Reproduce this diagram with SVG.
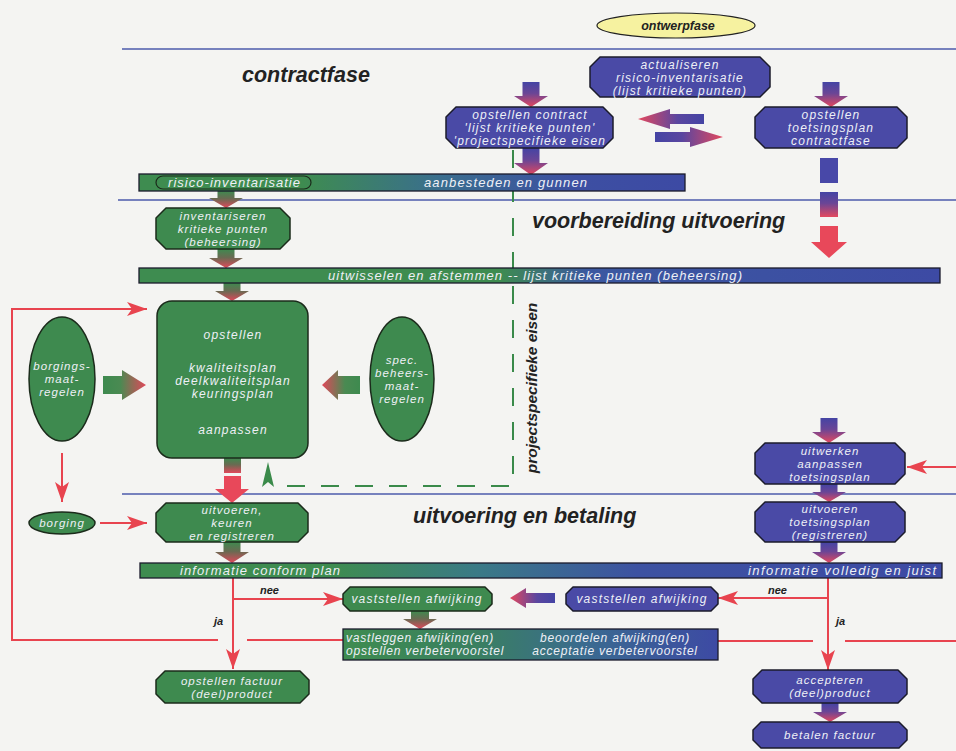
<svg xmlns="http://www.w3.org/2000/svg" width="956" height="751" viewBox="0 0 956 751">
<style>
.nb{fill:#4a4aa6;stroke:#1b1b2b;stroke-width:1.5;stroke-linejoin:round}
.ng{fill:#3e8a4f;stroke:#1b2b1b;stroke-width:1.5;stroke-linejoin:round}
.bar{stroke:#1b1b2b;stroke-width:1.3}
.t{font-family:"Liberation Sans",Arial,sans-serif;font-style:italic;font-size:11.5px;fill:#eef0f6;text-anchor:middle;letter-spacing:1.05px}
.big{font-size:12px;letter-spacing:1.2px}
.tl{letter-spacing:0;font-size:13px}
.ts{text-anchor:start}
.te{text-anchor:end}
.h{font-family:"Liberation Sans",Arial,sans-serif;font-style:italic;font-weight:bold;font-size:21.5px;fill:#222}
.lbl{font-family:"Liberation Sans",Arial,sans-serif;font-style:italic;font-weight:bold;font-size:11px;fill:#222}
.red{stroke:#e8444f;stroke-width:2;fill:none}
.bl{stroke:#4d5bab;stroke-width:1.3}
.gd{stroke:#3a8a4a;stroke-width:2;fill:none;stroke-dasharray:18 16}
</style>
<defs>
<linearGradient id="gBR" x1="0" y1="0" x2="0" y2="1"><stop offset="0" stop-color="#4444a4"/><stop offset="0.45" stop-color="#6a4596"/><stop offset="1" stop-color="#e4485e"/></linearGradient>
<linearGradient id="gGR" x1="0" y1="0" x2="0" y2="1"><stop offset="0" stop-color="#3e8a4f"/><stop offset="0.45" stop-color="#6a6a52"/><stop offset="1" stop-color="#e0485a"/></linearGradient>
<linearGradient id="hBRr" x1="0" y1="0" x2="1" y2="0"><stop offset="0" stop-color="#4444a4"/><stop offset="0.4" stop-color="#5a46a0"/><stop offset="1" stop-color="#e4485e"/></linearGradient>
<linearGradient id="hBRl" x1="1" y1="0" x2="0" y2="0"><stop offset="0" stop-color="#4444a4"/><stop offset="0.4" stop-color="#5a46a0"/><stop offset="1" stop-color="#e4485e"/></linearGradient>
<linearGradient id="hGRr" x1="0" y1="0" x2="1" y2="0"><stop offset="0" stop-color="#3e8a4f"/><stop offset="0.4" stop-color="#4a8a52"/><stop offset="1" stop-color="#e0485a"/></linearGradient>
<linearGradient id="hGRl" x1="1" y1="0" x2="0" y2="0"><stop offset="0" stop-color="#3e8a4f"/><stop offset="0.4" stop-color="#4a8a52"/><stop offset="1" stop-color="#e0485a"/></linearGradient>
<linearGradient id="bar1" x1="0" y1="0" x2="1" y2="0"><stop offset="0" stop-color="#3e8c50"/><stop offset="0.3" stop-color="#3e8c50"/><stop offset="0.55" stop-color="#3a6e8e"/><stop offset="0.8" stop-color="#3d4fa2"/><stop offset="1" stop-color="#3d4aa4"/></linearGradient>
<linearGradient id="bar2" x1="0" y1="0" x2="1" y2="0"><stop offset="0" stop-color="#3e8c50"/><stop offset="0.45" stop-color="#3e8c50"/><stop offset="0.56" stop-color="#3b58a0"/><stop offset="1" stop-color="#3d4aa4"/></linearGradient>
<linearGradient id="bar3" x1="0" y1="0" x2="1" y2="0"><stop offset="0" stop-color="#3e8c50"/><stop offset="0.24" stop-color="#3e8c50"/><stop offset="0.42" stop-color="#3a7a86"/><stop offset="0.62" stop-color="#3d52a2"/><stop offset="1" stop-color="#3d4aa4"/></linearGradient>
<linearGradient id="bar4" x1="0" y1="0" x2="1" y2="0"><stop offset="0" stop-color="#3e8c50"/><stop offset="0.35" stop-color="#3a8060"/><stop offset="0.65" stop-color="#3a6a90"/><stop offset="1" stop-color="#3d4aa4"/></linearGradient>
<marker id="ar" markerUnits="userSpaceOnUse" markerWidth="22" markerHeight="16" refX="20" refY="7" orient="auto"><path d="M0,0 L20,7 L0,14 L5,7 Z" fill="#e8444f"/></marker>
</defs>
<rect width="956" height="751" fill="#f4f4f2"/>

<g id="phase-lines">
<line class="bl" x1="122" y1="49" x2="956" y2="49"/>
<line class="bl" x1="118" y1="200" x2="956" y2="200"/>
<line class="bl" x1="122" y1="494" x2="956" y2="494"/>
</g>

<g id="titles">
<text class="h" x="242" y="82">contractfase</text>
<text class="h" x="532" y="228">voorbereiding uitvoering</text>
<text class="h" x="413" y="523">uitvoering en betaling</text>
</g>

<g id="connectors">
<path class="gd" d="M513,150 V486 H282"/>
<polygon points="268,462 274,487 268,482 262,487" fill="#3a8a4a"/>
<path class="red" d="M343,640 H247"/>
<path class="red" d="M218,640 H12 V309 H147" marker-end="url(#ar)"/>
<path class="red" d="M718,641 H813"/>
<path class="red" d="M845,641 H956"/>
<path class="red" d="M956,467 H907" marker-end="url(#ar)"/>
<path class="red" d="M233,578 V669" marker-end="url(#ar)"/>
<path class="red" d="M233,599 H343" marker-end="url(#ar)"/>
<path class="red" d="M828,578 V670" marker-end="url(#ar)"/>
<path class="red" d="M828,598 H718" marker-end="url(#ar)"/>
<path class="red" d="M62,453 V502" marker-end="url(#ar)"/>
<path class="red" d="M100,523 H147" marker-end="url(#ar)"/>
<path fill="url(#gBR)" d="M522.5,82 H539.5 V96 H548 L531,107 L514,96 H522.5 Z"/>
<path fill="url(#gBR)" d="M822.5,82 H839.5 V96 H848 L831,107 L814,96 H822.5 Z"/>
<path fill="url(#gBR)" d="M522.5,148 H539.5 V163 H548 L531,175 L514,163 H522.5 Z"/>
<path fill="url(#hBRl)" d="M704,114 V124 H670 V129 L638,119 L670,109 V114 Z"/>
<path fill="url(#hBRr)" d="M655,132 H690 V127 L723,137 L690,147 V142 H655 Z"/>
<rect x="820" y="158" width="18" height="25" fill="#4848a8"/>
<rect x="820" y="192" width="18" height="25" fill="url(#gBR)"/>
<path fill="#e8485a" d="M820,226 H838 V242 H847 L829,258 L811,242 H820 Z"/>
<path fill="url(#gGR)" d="M217.5,191 H234.5 V198 H243 L226,208 L209,198 H217.5 Z"/>
<path fill="url(#gGR)" d="M217.5,249 H234.5 V258 H243 L226,268 L209,258 H217.5 Z"/>
<path fill="url(#gGR)" d="M223.5,283 H240.5 V291 H249 L232,301 L215,291 H223.5 Z"/>
<path fill="url(#hGRr)" d="M103,376 H122 V370 L146,385 L122,400 V394 H103 Z"/>
<path fill="url(#hGRl)" d="M360,376 V394 H338 V400 L322,385 L338,370 V376 Z"/>
<rect x="224" y="458" width="17" height="15" fill="url(#gGR)"/>
<path fill="#e8485a" d="M224,476 H241 V489 H249 L232,503 L215,489 H224 Z"/>
<path fill="url(#gGR)" d="M223.5,542 H240.5 V552 H249 L232,563 L215,552 H223.5 Z"/>
<path fill="url(#gGR)" d="M411,611 H429 V619 H437 L420,629 L403,619 H411 Z"/>
<path fill="url(#hBRl)" d="M555,593 V603 H526 V608 L510,598 L526,588 V593 Z"/>
<path fill="url(#gBR)" d="M820.5,418 H837.5 V432 H846 L829,443 L812,432 H820.5 Z"/>
<path fill="url(#gBR)" d="M820.5,484 H837.5 V492 H846 L829,502 L812,492 H820.5 Z"/>
<path fill="url(#gBR)" d="M820.5,542 H837.5 V552 H846 L829,563 L812,552 H820.5 Z"/>
<path fill="url(#gBR)" d="M821.5,703 H838.5 V712 H847 L830,722 L813,712 H821.5 Z"/>
<text class="lbl" x="260" y="594">nee</text>
<text class="lbl" x="214" y="625">ja</text>
<text class="lbl" x="768" y="594">nee</text>
<text class="lbl" x="836" y="625">ja</text>
<text class="lbl" x="537" y="388" text-anchor="middle" transform="rotate(-90 537 388)" style="font-size:15.5px">projectspecifieke eisen</text>
</g>

<g id="ontwerpfase">
<ellipse cx="676" cy="25.5" rx="79" ry="12.5" fill="#f6f2a0" stroke="#222" stroke-width="1.2"/>
<text class="lbl" x="678" y="30" text-anchor="middle" style="font-size:12.5px">ontwerpfase</text>
</g>

<g id="actualiseren">
<path class="nb" d="M600,57 H760 L770,67 V87 L760,97 H600 L590,87 V67 Z"/>
<text class="t big" x="680" y="68.5">actualiseren</text>
<text class="t big" x="680" y="81.5">risico-inventarisatie</text>
<text class="t big" x="680" y="94.5">(lijst kritieke punten)</text>
</g>

<g id="opstellen-contract">
<path class="nb" d="M456,107 H603 L613,117 V138 L603,148 H456 L446,138 V117 Z"/>
<text class="t big" x="530" y="118.7">opstellen contract</text>
<text class="t big" x="530" y="131.7">'lijst kritieke punten'</text>
<text class="t big" x="530" y="144.7">'projectspecifieke eisen</text>
</g>

<g id="opstellen-toetsingsplan">
<path class="nb" d="M765,107 H897 L907,117 V138 L897,148 H765 L755,138 V117 Z"/>
<text class="t big" x="831" y="118.7">opstellen</text>
<text class="t big" x="831" y="131.7">toetsingsplan</text>
<text class="t big" x="831" y="144.7">contractfase</text>
</g>

<g id="bar-aanbesteden">
<rect class="bar" x="139" y="174" width="546" height="17" fill="url(#bar1)"/>
<rect x="156" y="176" width="155" height="13" rx="7" fill="none" stroke="#1b2b1b" stroke-width="1.2"/>
<text class="t tl ts" x="168" y="187" textLength="132" lengthAdjust="spacing">risico-inventarisatie</text>
<text class="t tl ts" x="424" y="187" textLength="163" lengthAdjust="spacing">aanbesteden en gunnen</text>
</g>

<g id="inventariseren">
<path class="ng" d="M166,208 H280 L290,218 V239 L280,249 H166 L156,239 V218 Z"/>
<text class="t" x="223" y="219.5">inventariseren</text>
<text class="t" x="223" y="232.5">kritieke punten</text>
<text class="t" x="223" y="245.5">(beheersing)</text>
</g>

<g id="bar-uitwisselen">
<rect class="bar" x="139" y="268" width="801" height="15" fill="url(#bar2)"/>
<text class="t tl ts" x="328" y="279.5" textLength="414" lengthAdjust="spacing">uitwisselen en afstemmen -- lijst kritieke punten (beheersing)</text>
</g>

<g id="kwaliteitsplan">
<rect class="ng" x="157" y="301" width="151" height="157" rx="15"/>
<text class="t big" x="233" y="339">opstellen</text>
<text class="t big" x="233" y="372">kwaliteitsplan</text>
<text class="t big" x="233" y="385">deelkwaliteitsplan</text>
<text class="t big" x="233" y="398">keuringsplan</text>
<text class="t big" x="233" y="434">aanpassen</text>
</g>

<g id="borgingsmaatregelen">
<ellipse class="ng" cx="62" cy="379" rx="33" ry="62"/>
<text class="t" x="62" y="370">borgings-</text>
<text class="t" x="62" y="383">maat-</text>
<text class="t" x="62" y="396">regelen</text>
</g>

<g id="spec-beheersmaatregelen">
<ellipse class="ng" cx="402" cy="379" rx="32" ry="62"/>
<text class="t" x="402" y="363.5">spec.</text>
<text class="t" x="402" y="376.5">beheers-</text>
<text class="t" x="402" y="389.5">maat-</text>
<text class="t" x="402" y="402.5">regelen</text>
</g>

<g id="borging">
<ellipse class="ng" cx="62" cy="523" rx="33" ry="11"/>
<text class="t" x="62" y="527">borging</text>
</g>

<g id="uitvoeren-keuren">
<path class="ng" d="M166,503 H298 L308,513 V532 L298,542 H166 L156,532 V513 Z"/>
<text class="t" x="232" y="513.5">uitvoeren,</text>
<text class="t" x="232" y="526.5">keuren</text>
<text class="t" x="232" y="539.5">en registreren</text>
</g>

<g id="uitwerken">
<path class="nb" d="M765,443 H895 L905,453 V474 L895,484 H765 L755,474 V453 Z"/>
<text class="t" x="830" y="454.5">uitwerken</text>
<text class="t" x="830" y="467.5">aanpassen</text>
<text class="t" x="830" y="480.5">toetsingsplan</text>
</g>

<g id="uitvoeren-toetsingsplan">
<path class="nb" d="M765,502 H895 L905,512 V532 L895,542 H765 L755,532 V512 Z"/>
<text class="t" x="830" y="513">uitvoeren</text>
<text class="t" x="830" y="526">toetsingsplan</text>
<text class="t" x="830" y="539">(registreren)</text>
</g>

<g id="bar-informatie">
<rect class="bar" x="140" y="563" width="802" height="15" fill="url(#bar3)"/>
<text class="t tl ts" x="180" y="574.5" textLength="160" lengthAdjust="spacing">informatie conform plan</text>
<text class="t tl ts" x="748" y="574.5" textLength="188" lengthAdjust="spacing">informatie volledig en juist</text>
</g>

<g id="vaststellen-afwijking-groen">
<path class="ng" d="M350,587 H485 L492,594 V604 L485,611 H350 L343,604 V594 Z"/>
<text class="t big" x="417" y="603">vaststellen afwijking</text>
</g>

<g id="vaststellen-afwijking-blauw">
<path class="nb" d="M573,587 H711 L718,594 V604 L711,611 H573 L566,604 V594 Z"/>
<text class="t big" x="642" y="603">vaststellen afwijking</text>
</g>

<g id="vastleggen-afwijking">
<rect class="bar" x="343" y="629" width="375" height="31" fill="url(#bar4)"/>
<text class="t ts" x="346" y="642" style="font-size:12px;letter-spacing:.8px">vastleggen afwijking(en)</text>
<text class="t ts" x="346" y="655" style="font-size:12px;letter-spacing:.8px">opstellen verbetervoorstel</text>
<text class="t" x="615" y="642" style="font-size:12px;letter-spacing:.8px">beoordelen afwijking(en)</text>
<text class="t" x="615" y="655" style="font-size:12px;letter-spacing:.8px">acceptatie verbetervoorstel</text>
</g>

<g id="opstellen-factuur">
<path class="ng" d="M165,671 H300 L309,680 V694 L300,703 H165 L156,694 V680 Z"/>
<text class="t" x="232" y="684.5">opstellen factuur</text>
<text class="t" x="232" y="697.5">(deel)product</text>
</g>

<g id="accepteren">
<path class="nb" d="M762,670 H898 L907,679 V694 L898,703 H762 L753,694 V679 Z"/>
<text class="t" x="830" y="684">accepteren</text>
<text class="t" x="830" y="697">(deel)product</text>
</g>

<g id="betalen-factuur">
<path class="nb" d="M761,722 H899 L907,730 V740 L899,748 H761 L753,740 V730 Z"/>
<text class="t" x="830" y="739">betalen factuur</text>
</g>
</svg>
